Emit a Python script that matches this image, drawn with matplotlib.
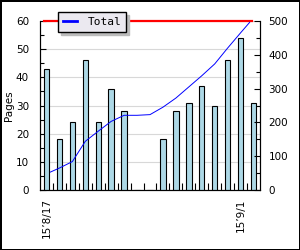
import matplotlib
matplotlib.use('Agg')
import matplotlib.pyplot as plt
from matplotlib.lines import Line2D
import numpy as np

# daily pages, 2015-08-17 .. 2015-09-02
pages = [43, 18, 24, 46, 24, 36, 28, 0, 0, 18, 28, 31, 37, 30, 46, 54, 31]
tick_labels = {0: '15\u20198/17', 15: '15\u20199/1'}

# running total (right axis)
total_days = [0.3, 1, 2, 3, 4, 5, 6, 7, 8, 9, 10, 11, 12, 13, 14, 15, 15.7]
total_pages = [53, 65, 84, 144, 174, 203, 221, 221, 223, 245, 272, 305, 338, 373, 420, 465, 496]

target_pages = 60

plt.rcParams['font.family'] = 'DejaVu Sans'
plt.rcParams['font.size'] = 7.5

fig = plt.figure(figsize=(3.0, 2.5), dpi=100, edgecolor='black', linewidth=1)
ax = fig.add_axes([40/300, 60/250, 220/300, 169/250])

x = np.arange(len(pages))
ax.bar(x, pages, width=0.42, color='#add8e6', edgecolor='black', linewidth=0.8, zorder=3)
ax.axhline(target_pages, xmin=0.018, xmax=0.964, color='#ff0000', linewidth=1.6,
           zorder=4, clip_on=False)

ax.set_xlim(-0.5, len(pages) - 0.5)
ax.set_ylim(0, 60)
ax.set_yticks(np.arange(0, 61, 10))
ax.set_yticks(np.arange(5, 60, 10), minor=True)
ax.yaxis.grid(True, which='major', color='#d8d8d8', linewidth=0.8, zorder=0)
ax.set_xticks(list(tick_labels.keys()))
ax.set_xticklabels(list(tick_labels.values()), rotation=90)
ax.set_xticks(np.arange(0.5, len(pages) - 1, 1), minor=True)
ax.tick_params(axis='x', which='major', length=0, pad=6)
ax.tick_params(axis='x', which='minor', direction='in', length=5, width=0.8)
ax.tick_params(axis='y', which='major', direction='in', length=4, width=0.8, pad=8)
ax.tick_params(axis='y', which='minor', direction='in', length=3, width=0.8)
ax.set_ylabel('Pages')
ax.yaxis.set_label_coords(-26/220, 0.5)
ax.spines['top'].set_visible(False)

ax2 = ax.twinx()
ax2.plot(total_days, total_pages, color='#0000ff', linewidth=0.7, zorder=5)
ax2.set_ylim(0, 500)
ax2.set_yticks(np.arange(0, 501, 100))
ax2.set_yticks(np.arange(50, 500, 100), minor=True)
ax2.tick_params(axis='y', which='major', direction='in', length=4, width=0.8, pad=6)
ax2.tick_params(axis='y', which='minor', direction='in', length=3, width=0.8)
ax2.spines['top'].set_visible(False)

for a in (ax, ax2):
    for s in a.spines.values():
        s.set_linewidth(0.8)

handle = Line2D([0], [0], color='#0000ff', linewidth=2)
fig.legend([handle], ['Total'], loc='upper left', bbox_to_anchor=(58/300, 1 - 12/250),
           borderaxespad=0, fancybox=False, framealpha=1, facecolor='#ebe9f0',
           edgecolor='black', shadow={'color': '#bbbbbb', 'alpha': 1},
           handlelength=1.3, handletextpad=0.9, borderpad=0.45,
           prop={'family': 'DejaVu Sans Mono', 'size': 8})

fig.savefig('out.png', dpi=100)
